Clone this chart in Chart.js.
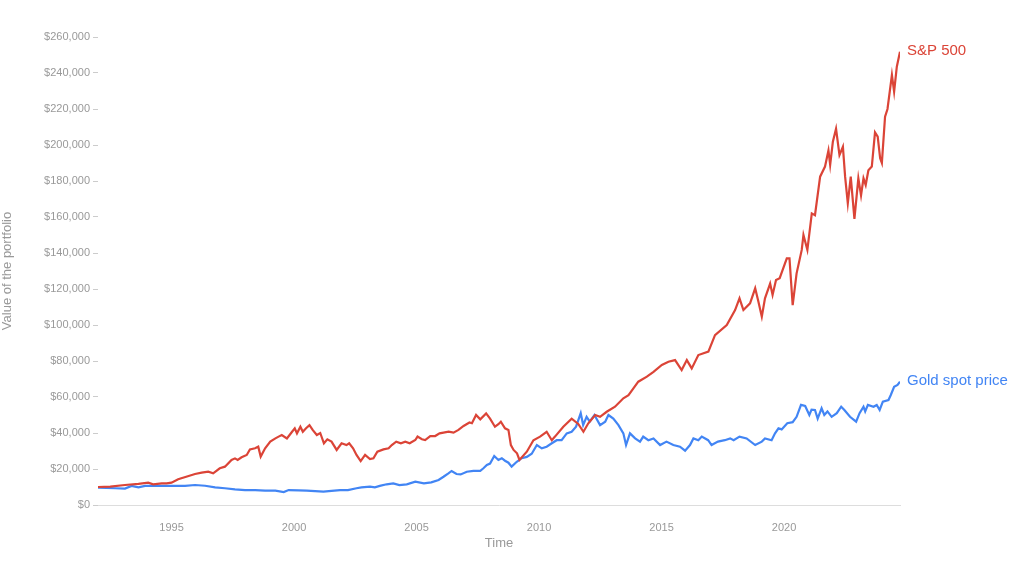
<!DOCTYPE html>
<html>
<head>
<meta charset="utf-8">
<title>S&amp;P 500 vs Gold</title>
<script src="https://cdn.jsdelivr.net/npm/chart.js@4"></script>
<style>
    body { margin: 0; background: #fff; }
    canvas { display: block; }
</style>
</head>
<body>
<canvas id="growthChart" width="1024" height="563"></canvas>
<script>
// value of a $10,000 portfolio (thousands of $)
const spDates = [
    1992.0, 1992.5, 1993.1, 1993.65, 1994.05, 1994.25, 1994.6, 1994.8, 1995.0, 1995.27,
    1995.6, 1995.96, 1996.23, 1996.5, 1996.7, 1996.97, 1997.18, 1997.45, 1997.59, 1997.7,
    1997.86, 1998.07, 1998.2, 1998.41, 1998.54, 1998.64, 1998.82, 1999.03, 1999.24, 1999.37,
    1999.5, 1999.71, 1999.92, 2000.03, 2000.12, 2000.26, 2000.36, 2000.49, 2000.63, 2000.76,
    2000.93, 2001.07, 2001.22, 2001.36, 2001.53, 2001.74, 2001.94, 2002.14, 2002.25, 2002.41,
    2002.55, 2002.72, 2002.9, 2003.1, 2003.24, 2003.4, 2003.65, 2003.86, 2003.99, 2004.17,
    2004.36, 2004.54, 2004.72, 2004.95, 2005.04, 2005.22, 2005.35, 2005.56, 2005.76, 2005.94,
    2006.1, 2006.31, 2006.51, 2006.71, 2006.92, 2007.16, 2007.26, 2007.43, 2007.6, 2007.84,
    2008.0, 2008.2, 2008.34, 2008.44, 2008.61, 2008.75, 2008.85, 2008.96, 2009.1, 2009.2,
    2009.5, 2009.77, 2010.04, 2010.31, 2010.52, 2010.65, 2010.99, 2011.33, 2011.6, 2011.81,
    2012.01, 2012.29, 2012.49, 2012.76, 2013.1, 2013.44, 2013.65, 2013.85, 2014.05, 2014.4,
    2014.67, 2015.01, 2015.28, 2015.55, 2015.82, 2016.03, 2016.23, 2016.5, 2016.91, 2017.18,
    2017.66, 2018.0, 2018.18, 2018.34, 2018.61, 2018.82, 2018.95, 2019.09, 2019.22, 2019.43,
    2019.53, 2019.67, 2019.82, 2020.11, 2020.22, 2020.35, 2020.51, 2020.72, 2020.79, 2020.95,
    2021.13, 2021.26, 2021.47, 2021.67, 2021.81, 2021.88, 2021.99, 2022.12, 2022.26, 2022.4,
    2022.49, 2022.6, 2022.72, 2022.87, 2023.03, 2023.14, 2023.24, 2023.33, 2023.44, 2023.58,
    2023.71, 2023.82, 2023.92, 2023.99, 2024.12, 2024.22, 2024.4, 2024.49, 2024.6, 2024.73
];
const spValues = [
    10, 10.2, 11.1, 11.7, 12.4, 11.5, 12, 12, 12.4, 14.3,
    15.7, 17.2, 18, 18.5, 17.6, 20.4, 21.3, 25, 25.9, 25,
    26.5, 27.8, 30.9, 31.5, 32.4, 26.9, 31.5, 35.2, 37, 38,
    38.9, 37, 40.7, 42.6, 39.8, 43.5, 40.7, 42.6, 44.4, 41.7,
    38.9, 40, 34.3, 36.5, 35.2, 30.6, 34.3, 33.3, 34.3, 31.5,
    27.8, 24.4, 27.8, 25.5, 26, 29.6, 30.9, 31.5, 33.3, 35.2,
    34.3, 35.2, 34.3, 36.1, 38, 36.5, 36.1, 38.3, 38.3, 39.8,
    40.2, 40.7, 40.2, 41.7, 43.9, 45.8, 45.4, 50, 47.6, 50.9,
    48, 43.5, 44.9, 46.3, 42.6, 41.7, 33.3, 30.6, 28.7, 25,
    29.6, 36, 38, 40.7, 36, 38, 43.5, 48, 45, 40.7,
    45.4, 50, 49, 51.8, 54.6, 59.3, 61, 64.8, 68.5, 71.3,
    74, 77.8, 79.6, 80.5, 75, 80.5, 75.9, 83.3, 85.2, 94.4,
    100, 108.3, 114.8, 108.3, 112, 120.4, 113, 104.6, 114.8, 123,
    116.7, 125, 126, 137, 137, 111, 128.7, 141.7, 150, 141.7,
    162, 161, 182.4, 188, 197, 189, 201.8, 209, 194.4, 199,
    182.4, 167.6, 182.4, 159, 181.5, 172, 181.5, 177.8, 186, 188,
    207, 204.6, 192.6, 190, 215.7, 220, 238.9, 229.6, 243.5, 251.8
];

const goldDates = [
    1992.0, 1992.7, 1993.1, 1993.37, 1993.65, 1993.92, 1994.33, 1994.73, 1995.14, 1995.55,
    1995.96, 1996.37, 1996.78, 1997.18, 1997.59, 1998.0, 1998.41, 1998.82, 1999.24, 1999.58,
    1999.78, 2000.19, 2000.52, 2001.2, 2001.53, 2001.88, 2002.2, 2002.55, 2002.75, 2003.1,
    2003.3, 2003.5, 2003.78, 2004.05, 2004.3, 2004.6, 2004.95, 2005.3, 2005.6, 2005.9,
    2006.1, 2006.3, 2006.43, 2006.63, 2006.8, 2007.05, 2007.32, 2007.6, 2007.73, 2007.87,
    2008.0, 2008.17, 2008.34, 2008.48, 2008.61, 2008.75, 2008.88, 2009.09, 2009.29, 2009.5,
    2009.7, 2009.91, 2010.11, 2010.31, 2010.52, 2010.72, 2010.92, 2011.13, 2011.33, 2011.51,
    2011.7, 2011.8, 2011.94, 2012.07, 2012.26, 2012.49, 2012.7, 2012.83, 2013.03, 2013.24,
    2013.44, 2013.55, 2013.71, 2013.92, 2014.12, 2014.25, 2014.46, 2014.67, 2014.94, 2015.2,
    2015.48, 2015.75, 2015.96, 2016.16, 2016.3, 2016.5, 2016.64, 2016.9, 2017.04, 2017.3,
    2017.58, 2017.8, 2017.94, 2018.18, 2018.47, 2018.82, 2019.09, 2019.22, 2019.49, 2019.63,
    2019.77, 2019.9, 2020.13, 2020.35, 2020.51, 2020.69, 2020.86, 2021.03, 2021.12, 2021.26,
    2021.37, 2021.53, 2021.64, 2021.77, 2021.94, 2022.15, 2022.33, 2022.46, 2022.69, 2022.94,
    2023.08, 2023.24, 2023.31, 2023.42, 2023.65, 2023.78, 2023.9, 2024.03, 2024.26, 2024.35,
    2024.49, 2024.63, 2024.73
];
const goldValues = [
    9.6, 9.3, 9.1, 10.6, 9.8, 10.6, 10.6, 10.6, 10.6, 10.6,
    11.1, 10.7, 9.8, 9.3, 8.7, 8.3, 8.3, 8.0, 8.0, 7.2,
    8.3, 8.1, 8.0, 7.4, 7.8, 8.3, 8.3, 9.3, 9.8, 10.2,
    9.8, 10.6, 11.5, 12, 11.1, 11.5, 13, 12, 12.6, 13.9,
    15.7, 17.6, 18.9, 17.2, 17, 18.5, 19, 19, 20.4, 22.2,
    23, 27.2, 25, 26, 24.6, 23.5, 21.3, 24, 26, 26.7,
    28.5, 33.3, 31.5, 32.4, 34.3, 36, 36, 39.8, 40.7, 43.5,
    51, 44.4, 49, 46.3, 50, 44.4, 46.3, 50, 48, 44.4,
    39.8, 33.3, 39.8, 37, 35.2, 38, 36, 37, 33.3, 35.2,
    33.3, 32.4, 30.2, 33.3, 37, 36, 38, 36, 33.3, 35.2,
    36, 37, 36, 38, 37, 33.3, 35.2, 37, 36, 39.8,
    42.6, 42, 45.4, 46, 49, 55.6, 55, 50, 53, 52.8,
    48, 53.7, 50, 52, 49, 51, 54.6, 52.8, 49, 46.3,
    51, 54.6, 52, 55.6, 54.6, 55.6, 52.8, 57.4, 58.3, 61,
    65.7, 66.7, 68.5
];

const yearTicks = [1995, 2000, 2005, 2010, 2015, 2020];
const seriesNames = ["S&P 500", "Gold spot price"];

document.addEventListener("DOMContentLoaded", () => {
    const toPoints = (dates, values) => dates.map((d, i) => ({ x: d, y: values[i] * 1000 }));

    // names written next to the last point of each line
    const endLabels = {
        id: "endLabels",
        afterDatasetsDraw(chart) {
            const ctx = chart.ctx;
            ctx.save();
            ctx.font = "15px 'Liberation Sans', Arial, sans-serif";
            ctx.textBaseline = "middle";
            ctx.textAlign = "left";
            chart.data.datasets.forEach((ds, i) => {
                const pts = chart.getDatasetMeta(i).data;
                const last = pts[pts.length - 1];
                ctx.fillStyle = ds.borderColor;
                ctx.fillText(ds.label, last.x + 7, last.y - 1);
            });
            ctx.restore();
        }
    };

    const ctx = document.getElementById("growthChart").getContext("2d");
    new Chart(ctx, {
        type: "line",
        data: {
            datasets: [{
                label: seriesNames[0],
                data: toPoints(spDates, spValues),
                borderColor: "#db4437",
                borderWidth: 2.2,
                pointRadius: 0,
                tension: 0
            }, {
                label: seriesNames[1],
                data: toPoints(goldDates, goldValues),
                borderColor: "#4285f4",
                borderWidth: 2.2,
                pointRadius: 0,
                tension: 0
            }]
        },
        options: {
            responsive: false,
            animation: false,
            layout: {
                padding: { top: 37, right: 124, left: 0, bottom: 0 }
            },
            plugins: {
                legend: { display: false },
                tooltip: { enabled: false }
            },
            scales: {
                x: {
                    type: "linear",
                    min: 1992.0,
                    max: 2024.73,
                    afterBuildTicks: (scale) => {
                        scale.ticks = yearTicks.map(v => ({ value: v }));
                    },
                    afterFit: (scale) => { scale.height = 58; },
                    grid: { display: false },
                    border: { display: true, color: "#dddddd", width: 1 },
                    ticks: {
                        padding: 8,
                        color: "#999999",
                        font: { family: "'Liberation Sans', Arial, sans-serif", size: 11 },
                        callback: (value) => String(value),
                        maxRotation: 0
                    },
                    title: {
                        display: true,
                        text: "Time",
                        color: "#999999",
                        font: { family: "'Liberation Sans', Arial, sans-serif", size: 13 },
                        padding: { top: 0, bottom: 12 }
                    }
                },
                y: {
                    min: 0,
                    max: 260000,
                    afterFit: (scale) => { scale.width = 98; },
                    grid: {
                        drawOnChartArea: false,
                        drawTicks: true,
                        tickLength: 5,
                        color: "#cccccc"
                    },
                    border: { display: false },
                    ticks: {
                        stepSize: 20000,
                        padding: 3,
                        color: "#999999",
                        font: { family: "'Liberation Sans', Arial, sans-serif", size: 11 },
                        callback: (value) => "$" + value.toLocaleString("en-US")
                    },
                    title: {
                        display: true,
                        text: "Value of the portfolio",
                        color: "#999999",
                        font: { family: "'Liberation Sans', Arial, sans-serif", size: 13 },
                        padding: { top: 0, bottom: 0 }
                    }
                }
            }
        },
        plugins: [endLabels]
    });
});
</script>
</body>
</html>
